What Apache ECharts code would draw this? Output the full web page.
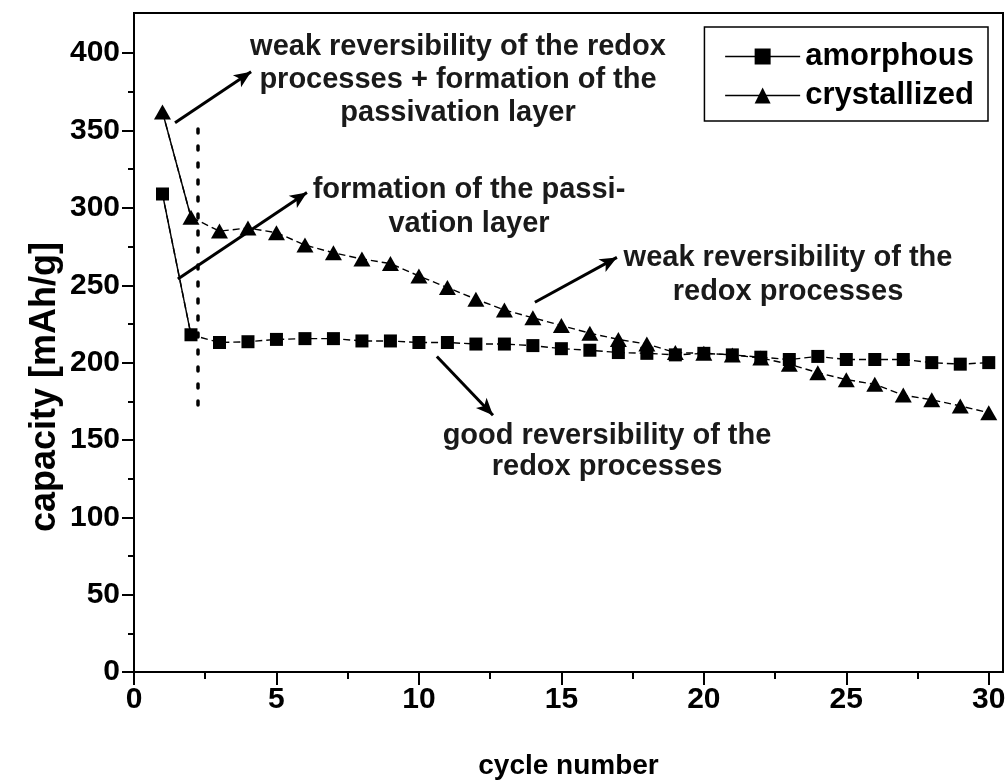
<!DOCTYPE html>
<html>
<head>
<meta charset="utf-8">
<script src="https://cdn.jsdelivr.net/npm/echarts@6/dist/echarts.min.js"></script>
<style>
  html, body { margin: 0; padding: 0; background: #fff; }
  #chart { width: 1008px; height: 780px; }
</style>
</head>
<body>
<div id="chart"></div>
<script>
// Discharge capacity per cycle for the two electrode materials
const cycles = [1, 2, 3, 4, 5, 6, 7, 8, 9, 10, 11, 12, 13, 14, 15,
                16, 17, 18, 19, 20, 21, 22, 23, 24, 25, 26, 27, 28, 29, 30];
const amorphous = [309, 218, 213, 213.5, 215, 215.5, 215.5, 214, 214, 213,
                   213, 212, 212, 211, 209, 208, 206.5, 206, 205, 206,
                   205, 203.5, 202, 204, 202, 202, 202, 200, 199, 200];
const crystallized = [362, 294, 285, 287, 284, 276, 271, 267, 264, 256,
                      248.5, 241, 234, 229, 224, 219, 215, 212, 206.5, 206,
                      205, 203, 199, 193.5, 189, 186, 179, 176, 172, 167.6];

// Axis ticks
const xMajorTicks = [0, 5, 10, 15, 20, 25, 30];
const xMinorTicks = [2.5, 7.5, 12.5, 17.5, 22.5, 27.5];
const yMajorTicks = [0, 50, 100, 150, 200, 250, 300, 350, 400];
const yMinorTicks = [25, 75, 125, 175, 225, 275, 325, 375];

// Annotation arrows (data coordinates: [cycle, capacity])
const arrows = [
  [[1.44, 355], [4.11, 388]],
  [[1.54, 254], [6.07, 310]],
  [[14.07, 239], [16.95, 268]],
  [[10.63, 204], [12.6, 166]]
];
const guideLine = [[2.25, 351], [2.25, 170]];

const FONT = '"Liberation Sans", Arial, sans-serif';
const pairs = (ys) => cycles.map((c, i) => [c, ys[i]]);

const chart = echarts.init(document.getElementById('chart'));

const majorAxisX = {
  type: 'value', min: 0, max: 30.5, gridIndex: 0, position: 'bottom',
  axisLine: { show: true, lineStyle: { color: '#000', width: 2 } },
  axisTick: { show: true, customValues: xMajorTicks, length: 13, inside: false,
              lineStyle: { color: '#000', width: 2 } },
  axisLabel: { show: true, customValues: xMajorTicks, margin: 13, color: '#000',
               fontFamily: FONT, fontWeight: 'bold', fontSize: 30 },
  splitLine: { show: false },
  name: 'cycle number', nameLocation: 'middle', nameGap: 80,
  nameTextStyle: { color: '#000', fontFamily: FONT, fontWeight: 'bold', fontSize: 28 }
};
const minorAxisX = {
  type: 'value', min: 0, max: 30.5, gridIndex: 0, position: 'bottom',
  axisLine: { show: false },
  axisTick: { show: true, customValues: xMinorTicks, length: 7,
              lineStyle: { color: '#000', width: 2 } },
  axisLabel: { show: false },
  splitLine: { show: false }
};
const majorAxisY = {
  type: 'value', min: 0, max: 426, gridIndex: 0, position: 'left',
  axisLine: { show: true, lineStyle: { color: '#000', width: 2 } },
  axisTick: { show: true, customValues: yMajorTicks, length: 12,
              lineStyle: { color: '#000', width: 2 } },
  axisLabel: { show: true, customValues: yMajorTicks, margin: 14, color: '#000',
               fontFamily: FONT, fontWeight: 'bold', fontSize: 30 },
  splitLine: { show: false }
};
const minorAxisY = {
  type: 'value', min: 0, max: 426, gridIndex: 0, position: 'left',
  axisLine: { show: false },
  axisTick: { show: true, customValues: yMinorTicks, length: 6,
              lineStyle: { color: '#000', width: 2 } },
  axisLabel: { show: false },
  splitLine: { show: false }
};

const dataLine = { color: '#000', width: 1.4, type: [7, 4] };

chart.setOption({
  animation: false,
  backgroundColor: '#fff',
  grid: { left: 134, right: 5, top: 13, bottom: 108, show: true,
          outerBoundsMode: 'none', containLabel: false,
          borderColor: '#000', borderWidth: 2, backgroundColor: 'transparent' },
  xAxis: [majorAxisX, minorAxisX],
  yAxis: [majorAxisY, minorAxisY],
  legend: {
    data: ['amorphous', 'crystallized'],
    right: 20, top: 27, orient: 'vertical',
    borderColor: '#000', borderWidth: 1.5, borderRadius: 0,
    padding: [14, 14, 10, 20], itemGap: 8,
    itemWidth: 75, itemHeight: 20,
    lineStyle: { type: 'solid', width: 1.4, color: '#000' },
    textStyle: { color: '#000', fontFamily: FONT, fontWeight: 'bold', fontSize: 31 }
  },
  series: [
    // solid connectors for the first cycle step
    { type: 'line', name: 'amorphous-first', data: pairs(amorphous).slice(0, 2),
      symbol: 'none', z: 1, silent: true,
      lineStyle: { color: '#000', width: 1.4, type: 'solid' } },
    { type: 'line', name: 'crystallized-first', data: pairs(crystallized).slice(0, 2),
      symbol: 'none', z: 1, silent: true,
      lineStyle: { color: '#000', width: 1.4, type: 'solid' } },
    { type: 'line', name: 'amorphous', data: pairs(amorphous), z: 3,
      symbol: 'rect', symbolSize: 13, color: '#000',
      itemStyle: { color: '#000' }, lineStyle: dataLine },
    { type: 'line', name: 'crystallized', data: pairs(crystallized), z: 3,
      symbol: 'triangle', symbolSize: [17, 15], color: '#000',
      itemStyle: { color: '#000' }, lineStyle: dataLine },
    // arrows pointing to the annotations
    { type: 'line', name: 'arrows', data: [], silent: true, z: 2,
      markLine: {
        silent: true, animation: false,
        symbol: ['none', 'arrow'], symbolSize: [11, 17],
        label: { show: false },
        lineStyle: { color: '#000', width: 3, type: 'solid' },
        emphasis: { disabled: true },
        data: arrows.map(a => [{ coord: a[0] }, { coord: a[1] }])
      } },
    // dotted guide after the first cycle
    { type: 'line', name: 'guide', data: [], silent: true, z: 2,
      markLine: {
        silent: true, animation: false,
        symbol: ['none', 'none'],
        label: { show: false },
        lineStyle: { color: '#000', width: 3.5, type: [4, 13], cap: 'round' },
        emphasis: { disabled: true },
        data: [[{ coord: guideLine[0] }, { coord: guideLine[1] }]]
      } }
  ],
  graphic: [
    { type: 'text', x: 45, y: 387, rotation: Math.PI / 2,
      style: { text: 'capacity [mAh/g]', align: 'center', verticalAlign: 'middle',
               fill: '#000', font: 'bold 36px ' + FONT } },
    { type: 'text', x: 458, y: 80,
      style: { text: 'weak reversibility of the redox\nprocesses + formation of the\npassivation layer',
               align: 'center', verticalAlign: 'middle', lineHeight: 33,
               fill: '#1a1a1a', font: 'bold 29px ' + FONT } },
    { type: 'text', x: 469, y: 207,
      style: { text: 'formation of the passi-\nvation layer',
               align: 'center', verticalAlign: 'middle', lineHeight: 34,
               fill: '#1a1a1a', font: 'bold 29px ' + FONT } },
    { type: 'text', x: 788, y: 275,
      style: { text: 'weak reversibility of the\nredox processes',
               align: 'center', verticalAlign: 'middle', lineHeight: 34,
               fill: '#1a1a1a', font: 'bold 29px ' + FONT } },
    { type: 'text', x: 607, y: 451,
      style: { text: 'good reversibility of the\nredox processes',
               align: 'center', verticalAlign: 'middle', lineHeight: 31,
               fill: '#1a1a1a', font: 'bold 29px ' + FONT } }
  ]
});
</script>
</body>
</html>
